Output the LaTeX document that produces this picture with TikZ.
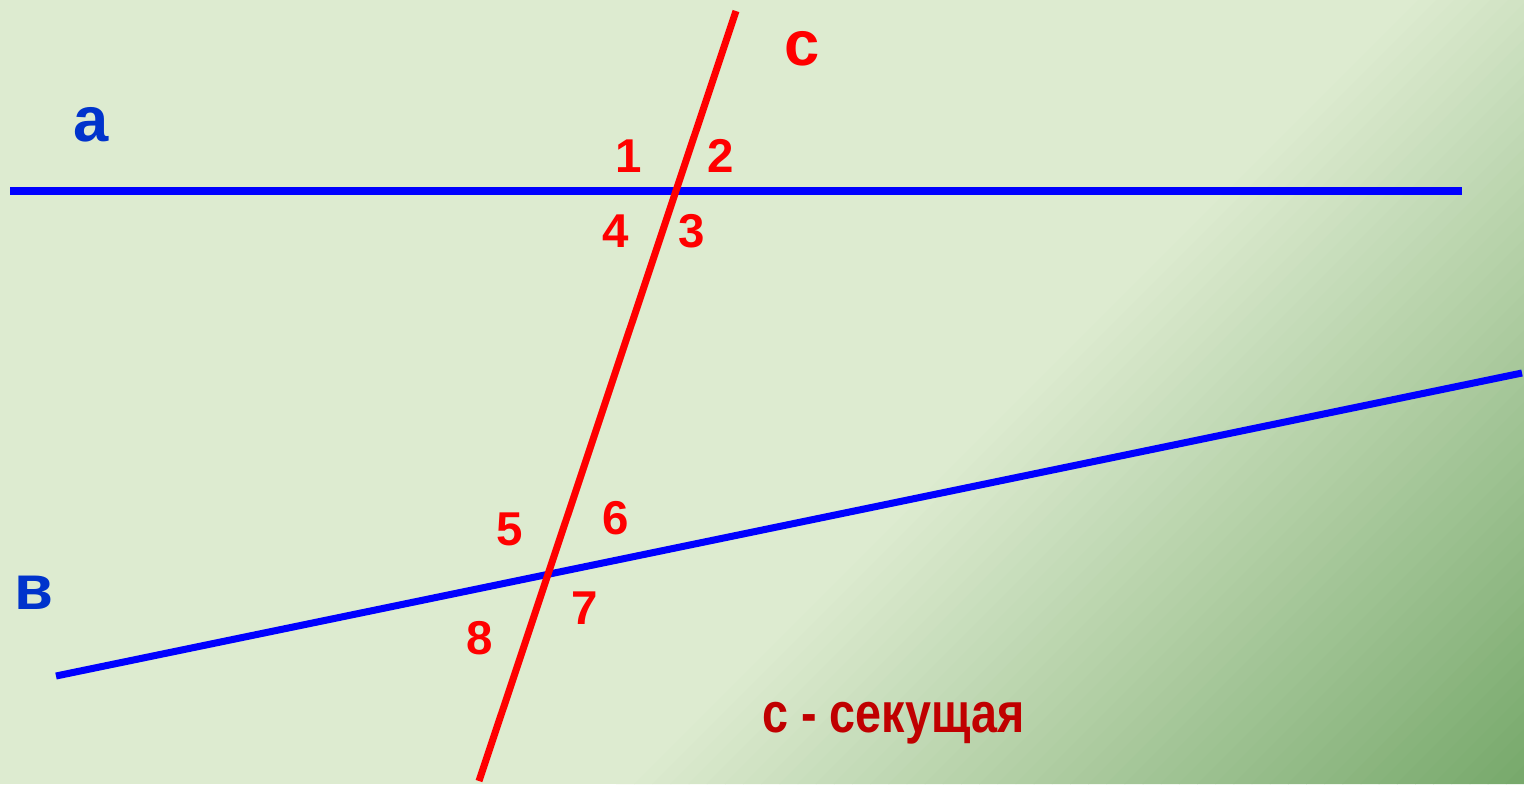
\documentclass[tikz,border=0pt]{standalone}
\usepackage{fontspec}
\setmainfont{Liberation Sans}
\usepackage{tikz}
\usetikzlibrary{positioning}

\definecolor{bglight}{RGB}{221,235,208}
\definecolor{bgdark}{RGB}{118,168,106}
\definecolor{lineblue}{RGB}{0,0,255}
\definecolor{linered}{RGB}{255,0,0}
\definecolor{nameblue}{RGB}{0,51,204}
\definecolor{darkred}{RGB}{192,0,0}

\begin{document}
\begin{tikzpicture}[x=0.01cm, y=-0.01cm,
    straight/.style={line width=2pt},
    angnum/.style={text=linered, font=\fontsize{13.5}{16}\selectfont\bfseries, anchor=base, inner sep=0pt},
    linename/.style={font=\fontsize{18}{22}\selectfont\bfseries, anchor=base, inner sep=0pt}]
    \useasboundingbox (0,0) rectangle (1524,784);

    % Background with gradient towards the lower right corner
    \fill[bglight] (0,0) rectangle (1524,784);
    \begin{scope}
        \clip (0,0) rectangle (1524,784);
        \foreach \i in {0,...,50} {
            \pgfmathsetmacro{\sa}{1400+\i*18.16}
            \pgfmathsetmacro{\sb}{\sa+19}
            \pgfmathtruncatemacro{\mix}{100-2*\i}
            \fill[bglight!\mix!bgdark] (\sa,0) -- (\sb,0) -- (\sb-784,784) -- (\sa-784,784) -- cycle;
        }
    \end{scope}

    % End points of the lines
    \coordinate (a1) at (10,191);
    \coordinate (a2) at (1462,191);
    \coordinate (b1) at (56,676);
    \coordinate (b2) at (1522,373);
    \coordinate (c1) at (736,11);
    \coordinate (c2) at (479,781);

    % Parallel lines a, b and the transversal c
    \draw[straight, lineblue] (a1) -- (a2);
    \draw[straight, lineblue] (b1) -- (b2);
    \draw[straight, linered] (c1) -- (c2);

    % Names of the lines
    \node[linename, text=nameblue] (la) at (91.5,141) {а};
    \node[linename, text=nameblue] (lb) at (33.5,609) {в};
    \node[linename, text=linered] (lc) at (802,65) {с};

    % Angles
    \node[angnum] (n1) at (629,172) {1};
    \node[angnum] (n2) at (721,172) {2};
    \node[angnum] (n3) at (692,247) {3};
    \node[angnum] (n4) at (616,247) {4};
    \node[angnum] (n5) at (510,545) {5};
    \node[angnum] (n6) at (616,534) {6};
    \node[angnum] (n7) at (585,624) {7};
    \node[angnum] (n8) at (480,654) {8};

    % Caption
    \node[anchor=base, inner sep=0pt, text=darkred, font=\fontsize{16}{19}\selectfont\bfseries] (sec) at (893.5,732) {\scalebox{0.83}[1]{с - секущая}};
\end{tikzpicture}
\end{document}
